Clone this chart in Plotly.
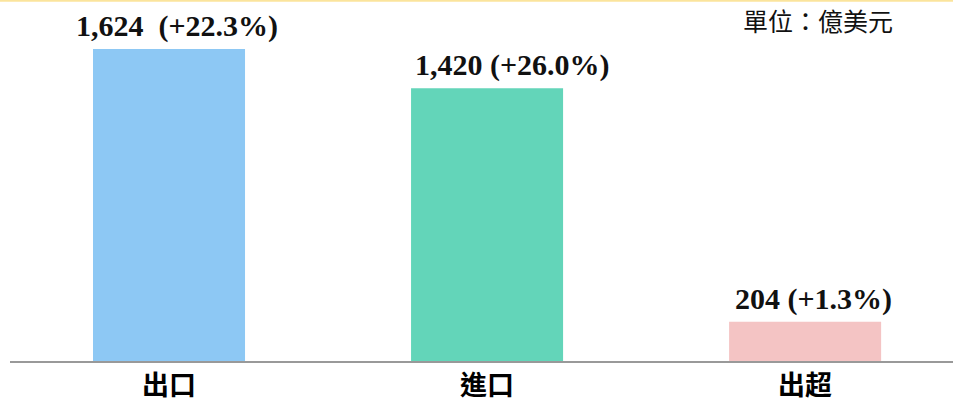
import plotly.graph_objects as go

categories = ["出口", "進口", "出超"]
values = [1624, 1420, 204]
label_texts = ["1,624  (+22.3%)", "1,420 (+26.0%)", "204 (+1.3%)"]
colors = ["#8DC8F4", "#63D5B9", "#F4C4C4"]
label_shift = [8, 25, 8]

fig = go.Figure()
fig.add_trace(go.Bar(
    x=categories, y=values, marker=dict(color=colors, line=dict(width=0)),
    width=0.478, hoverinfo="skip"
))

for c, v, t, s in zip(categories, values, label_texts, label_shift):
    fig.add_annotation(
        x=c, y=v, text=t, showarrow=False, yanchor="bottom", yshift=4, xshift=s,
        font=dict(family="Liberation Serif", size=30, color="#111111", weight="bold"),
    )

fig.add_annotation(
    xref="paper", yref="paper", x=(895 - 10) / 943, y=1.0, xanchor="right", yanchor="top", yshift=0,
    text="單位：億美元", showarrow=False,
    font=dict(family="Noto Sans CJK TC", size=25, color="#111111"),
)

fig.add_shape(type="line", xref="paper", yref="paper", x0=-0.02, x1=1, y0=0.998, y1=0.998,
              line=dict(color="#FBE49C", width=2))

fig.update_layout(
    width=953, height=410,
    margin=dict(l=10, r=0, t=0, b=49),
    plot_bgcolor="white", paper_bgcolor="white",
    showlegend=False,
    xaxis=dict(
        range=[-0.5, 2.465], showline=True, linecolor="#999999", linewidth=2,
        ticks="", showgrid=False,
        tickfont=dict(family="Noto Sans CJK TC", size=27, color="#000000", weight="bold"),
    ),
    yaxis=dict(range=[0, 1879], visible=False, showgrid=False),
)

fig.write_html(
    "out.html",
    config={"displayModeBar": False, "staticPlot": True},
    post_script="document.body.style.margin='0';document.body.style.overflow='hidden';",
)
